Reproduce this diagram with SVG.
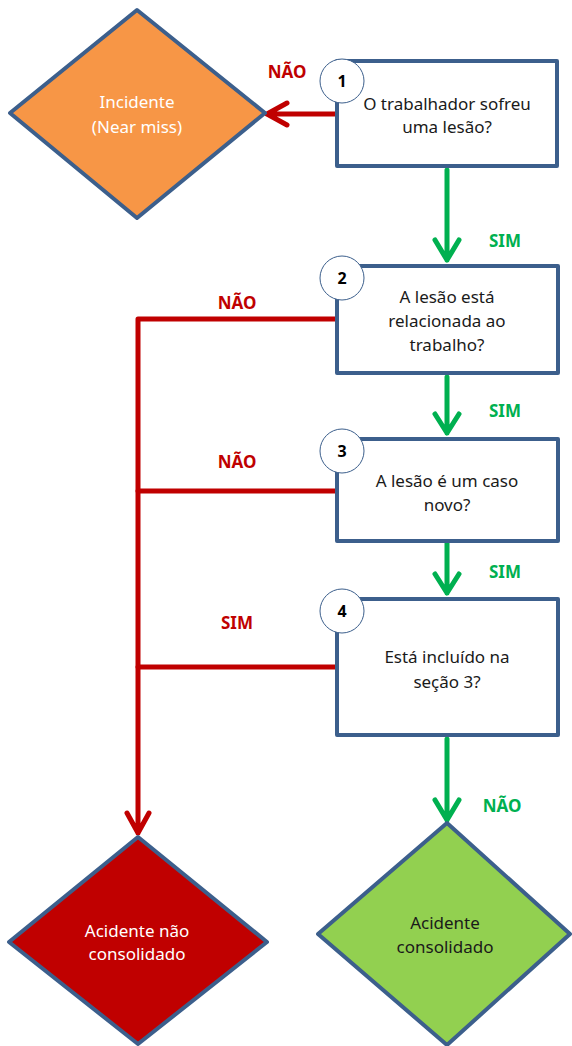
<svg xmlns="http://www.w3.org/2000/svg" width="572" height="1046" viewBox="0 0 572 1046">
<style>
.box{fill:#fff;stroke:#3c5f8c;stroke-width:4;stroke-linejoin:round}
.dia{stroke:#3c5f8c;stroke-width:4;stroke-linejoin:round}
.num{fill:#fff;stroke:#3c5f8c;stroke-width:1}
.numt{font-family:"Noto Sans","Open Sans",sans-serif;font-weight:bold;font-size:16px;fill:#000;text-anchor:middle}
.t{font-family:"Noto Sans","Open Sans",sans-serif;font-size:17px;fill:#1a1a1a;text-anchor:middle}
.tw{font-family:"Noto Sans","Open Sans",sans-serif;font-size:17px;fill:#fff;text-anchor:middle}
.red{fill:none;stroke:#c00000;stroke-width:5;stroke-linecap:round;stroke-linejoin:round}
.grn{fill:none;stroke:#00b050;stroke-width:5;stroke-linecap:round;stroke-linejoin:round}
.lr{font-family:"Noto Sans","Open Sans",sans-serif;font-weight:bold;font-size:17px;fill:#c00000;text-anchor:middle}
.lg{font-family:"Noto Sans","Open Sans",sans-serif;font-weight:bold;font-size:17px;fill:#00b050;text-anchor:middle}
</style>
<rect width="572" height="1046" fill="#fff"/>
<g id="connectors">
  <path class="red" d="M335 114 H267 M287 103 L267 114 L287 125"/>
  <path class="red" d="M335 319 H138 V833 M127 813 L138 833 L149 813"/>
  <path class="red" d="M335 491 H138"/>
  <path class="red" d="M335 667 H138"/>
  <path class="grn" d="M447 170 V260 M435 240 L447 260 L459 240"/>
  <path class="grn" d="M447 377 V433 M435 414 L447 433 L459 414"/>
  <path class="grn" d="M447 543 V593 M435 574 L447 593 L459 574"/>
  <path class="grn" d="M447 739 V820 M435 800 L447 820 L459 800"/>
  <text class="lr" x="287" y="78">NÃO</text>
  <text class="lg" x="505" y="247">SIM</text>
  <text class="lr" x="237" y="309">NÃO</text>
  <text class="lg" x="505" y="417">SIM</text>
  <text class="lr" x="237" y="468">NÃO</text>
  <text class="lg" x="505" y="578">SIM</text>
  <text class="lr" x="237" y="629">SIM</text>
  <text class="lg" x="502" y="812">NÃO</text>
</g>
<g id="incidente">
  <polygon class="dia" fill="#f79646" points="137,10 265,113 137,218 10,113"/>
  <text class="tw" x="137" y="108">Incidente</text>
  <text class="tw" x="137" y="133">(Near miss)</text>
</g>
<g id="q1">
  <rect class="box" x="337" y="61" width="220" height="105"/>
  <circle class="num" cx="342" cy="81" r="22"/>
  <text class="numt" x="342" y="87">1</text>
  <text class="t" x="447" y="110">O trabalhador sofreu</text>
  <text class="t" x="447" y="133">uma lesão?</text>
</g>
<g id="q2">
  <rect class="box" x="337" y="266" width="221" height="107"/>
  <circle class="num" cx="342" cy="278" r="22"/>
  <text class="numt" x="342" y="284">2</text>
  <text class="t" x="447" y="303">A lesão está</text>
  <text class="t" x="447" y="327">relacionada ao</text>
  <text class="t" x="447" y="351">trabalho?</text>
</g>
<g id="q3">
  <rect class="box" x="337" y="439" width="221" height="102"/>
  <circle class="num" cx="342" cy="451" r="22"/>
  <text class="numt" x="342" y="457">3</text>
  <text class="t" x="447" y="487">A lesão é um caso</text>
  <text class="t" x="447" y="511">novo?</text>
</g>
<g id="q4">
  <rect class="box" x="337" y="599" width="221" height="136"/>
  <circle class="num" cx="342" cy="611" r="22"/>
  <text class="numt" x="342" y="617">4</text>
  <text class="t" x="447" y="663">Está incluído na</text>
  <text class="t" x="447" y="688">seção 3?</text>
</g>
<g id="nao-consolidado">
  <polygon class="dia" fill="#c00000" points="138,837 267,942 138,1044 9,942"/>
  <text class="tw" x="137" y="937">Acidente não</text>
  <text class="tw" x="137" y="960">consolidado</text>
</g>
<g id="consolidado">
  <polygon class="dia" fill="#92d050" points="447,823 570,934 447,1045 318,934"/>
  <text class="t" x="445" y="929">Acidente</text>
  <text class="t" x="445" y="953">consolidado</text>
</g>
</svg>
